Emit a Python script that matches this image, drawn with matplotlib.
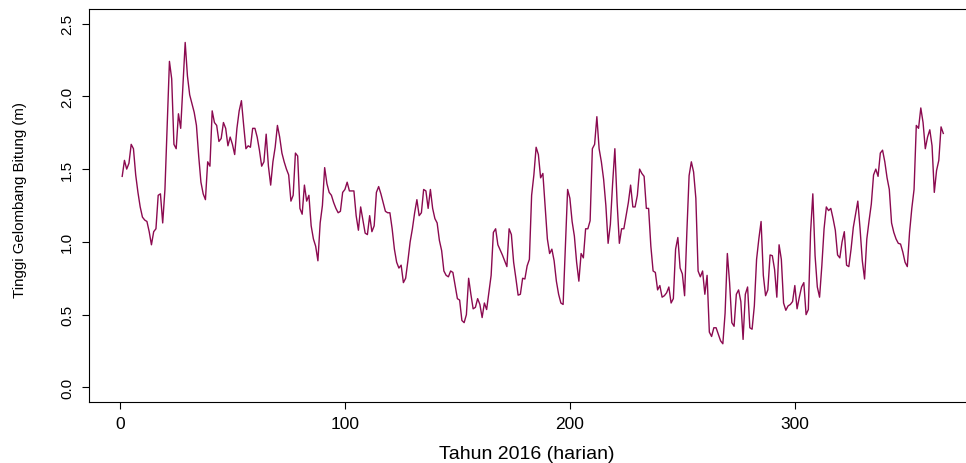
import matplotlib
matplotlib.use("Agg")
import matplotlib.pyplot as plt
import numpy as np

plt.rcParams['font.family'] = ['Liberation Sans', 'DejaVu Sans']

# tinggi gelombang harian 2016 (366 hari)
jan_feb = [1.45, 1.56, 1.50, 1.54, 1.67, 1.64, 1.46, 1.34, 1.24, 1.17, 1.15, 1.14,
           1.07, 0.98, 1.07, 1.09, 1.32, 1.33, 1.13, 1.36, 1.80, 2.24, 2.12, 1.67,
           1.64, 1.88, 1.78, 2.08, 2.37, 2.14, 2.01, 1.95, 1.89, 1.80, 1.59, 1.41,
           1.33, 1.29, 1.55, 1.52, 1.90, 1.82, 1.80, 1.69]
feb_mar = [1.71, 1.82, 1.78, 1.66, 1.72, 1.67, 1.60, 1.78, 1.90, 1.97, 1.80, 1.64,
           1.66, 1.65, 1.78, 1.78, 1.72, 1.63, 1.52, 1.55, 1.74, 1.52, 1.39, 1.55,
           1.65, 1.80, 1.72, 1.61, 1.55, 1.50, 1.46, 1.28, 1.32, 1.61, 1.59, 1.23,
           1.19, 1.39, 1.28, 1.32, 1.11, 1.02, 0.97, 0.87]
mar_may = [1.13, 1.25, 1.51, 1.40, 1.34, 1.32, 1.27, 1.23, 1.20, 1.21, 1.34, 1.36,
           1.41, 1.35, 1.35, 1.35, 1.18, 1.08, 1.24, 1.15, 1.06, 1.05, 1.18, 1.07,
           1.11, 1.34, 1.38, 1.33, 1.27, 1.21, 1.20, 1.20, 1.09, 0.95, 0.86, 0.82,
           0.84, 0.72, 0.75, 0.87]
may_jun = [1.00, 1.09, 1.20, 1.29, 1.18, 1.20, 1.36, 1.35, 1.23, 1.36, 1.23, 1.16,
           1.13, 1.01, 0.94, 0.80, 0.77, 0.76, 0.80, 0.79, 0.70, 0.61, 0.60, 0.46,
           0.445, 0.50, 0.75, 0.64, 0.54, 0.55, 0.61, 0.57, 0.48, 0.58, 0.535, 0.65,
           0.77, 1.065, 1.09, 0.98, 0.945, 0.91, 0.87, 0.83, 1.09, 1.05, 0.86, 0.75,
           0.634, 0.64]
jun_aug = [0.75, 0.745, 0.835, 0.88, 1.32, 1.46, 1.65, 1.60, 1.44, 1.47, 1.25, 1.02,
           0.92, 0.95, 0.87, 0.73, 0.64, 0.58, 0.57, 0.97, 1.36, 1.30, 1.14, 1.04,
           0.86, 0.73, 0.92, 0.89, 1.09, 1.09, 1.145, 1.64, 1.67, 1.86, 1.64, 1.55,
           1.43, 1.25, 0.99, 1.12, 1.40, 1.64, 1.27, 0.99]
aug_sep = [1.09, 1.09, 1.18, 1.27, 1.39, 1.24, 1.24, 1.32, 1.50, 1.47, 1.45, 1.23,
           1.23, 0.97, 0.80, 0.79, 0.67, 0.70, 0.62, 0.63, 0.65, 0.69, 0.58, 0.61,
           0.95, 1.03, 0.82, 0.78, 0.63, 1.065, 1.455, 1.55, 1.48, 1.30, 0.80, 0.76,
           0.80, 0.64, 0.77, 0.38, 0.35, 0.41, 0.41, 0.365, 0.32]
sep_nov = [0.30, 0.51, 0.92, 0.72, 0.445, 0.42, 0.64, 0.67, 0.59, 0.33, 0.64, 0.69,
           0.41, 0.40, 0.56, 0.88, 1.02, 1.14, 0.77, 0.63, 0.67, 0.91, 0.905, 0.81,
           0.62, 0.98, 0.88, 0.58, 0.53, 0.56, 0.57, 0.59, 0.70, 0.54, 0.62, 0.69,
           0.72, 0.50, 0.535, 1.065, 1.33, 0.905, 0.69, 0.62]
nov_dec = [0.835, 1.09, 1.24, 1.215, 1.23, 1.16, 1.08, 0.91, 0.89, 1.00, 1.07, 0.84,
           0.83, 0.95, 1.10, 1.19, 1.28, 1.09, 0.87, 0.745, 1.02, 1.145, 1.26, 1.46,
           1.50, 1.45, 1.61, 1.63, 1.55, 1.44, 1.36, 1.13, 1.065, 1.02, 0.99, 0.985,
           0.93, 0.86, 0.83, 1.065, 1.23, 1.36, 1.80, 1.78, 1.92, 1.82, 1.64, 1.72,
           1.77, 1.66, 1.34, 1.49, 1.56, 1.79, 1.745]

tinggi = np.array(jan_feb + feb_mar + mar_may + may_jun + jun_aug + aug_sep + sep_nov + nov_dec)
hari = np.arange(1, len(tinggi) + 1)

fig = plt.figure(figsize=(9.66, 4.64), dpi=100)
ax = fig.add_axes((0.0925, 0.1315, 0.918, 0.847))
ax.plot(hari, tinggi, color='#8B0A50', lw=1.0)

ax.set_xlim(-13.6, 380.6)
ax.set_ylim(-0.1, 2.6)
ax.set_xticks([0, 100, 200, 300])
ax.set_yticks([0.0, 0.5, 1.0, 1.5, 2.0, 2.5])
ax.set_yticklabels(['0.0', '0.5', '1.0', '1.5', '2.0', '2.5'], rotation=90, va='center')
ax.tick_params(direction='out', length=5, width=0.8, pad=6)
ax.tick_params(axis='x', labelsize=12.5, pad=5)
ax.tick_params(axis='y', labelsize=11)
for s in ax.spines.values():
    s.set_linewidth(0.8)

ax.set_xlabel('Tahun 2016 (harian)', fontsize=14)
ax.xaxis.set_label_coords(0.4935, -0.11)
ax.set_ylabel('Tinggi Gelombang Bitung (m)', fontsize=10.8)
ax.yaxis.set_label_coords(-0.0707, 0.5165)

fig.savefig('out.png', dpi=100)
